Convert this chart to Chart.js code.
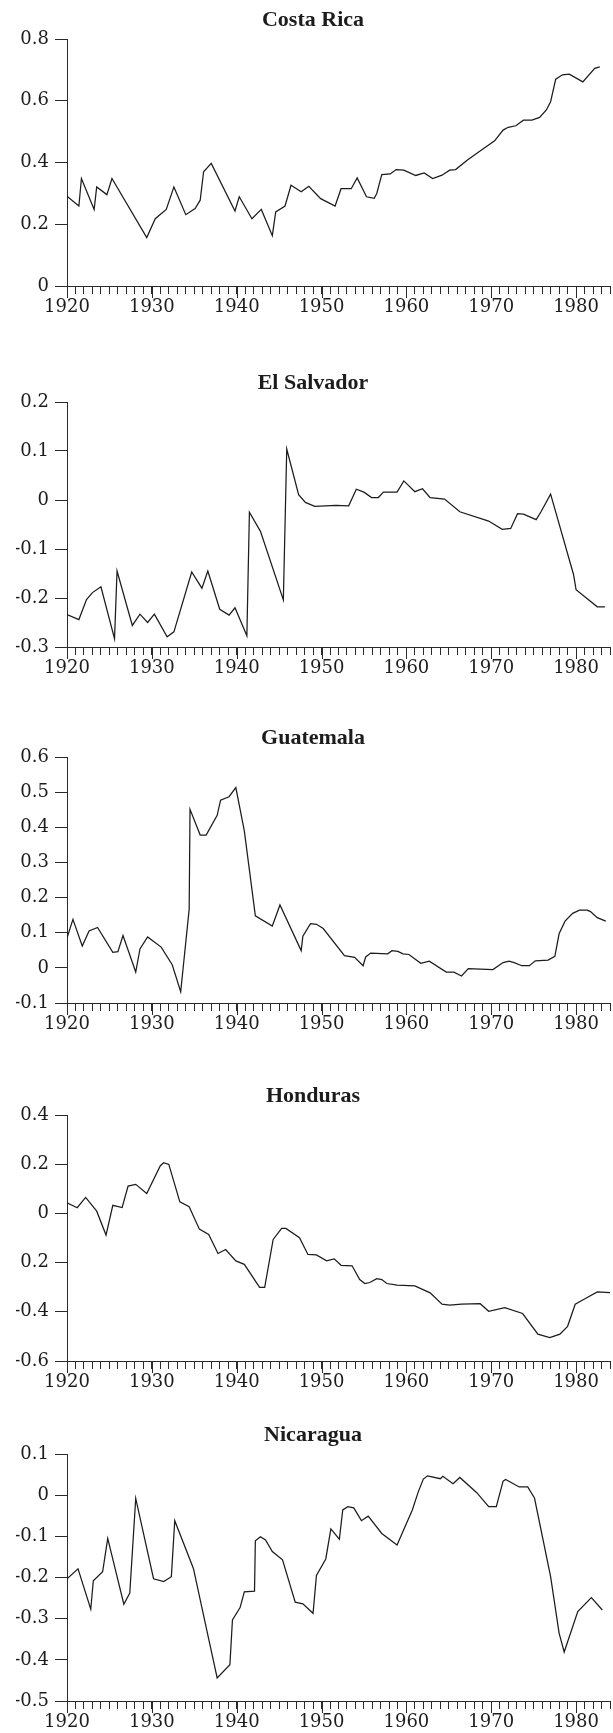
<!DOCTYPE html>
<html>
<head>
<meta charset="utf-8">
<script src="https://cdn.jsdelivr.net/npm/chart.js@4.4.0/dist/chart.umd.min.js"></script>
<style>
  html, body { margin: 0; padding: 0; background: #ffffff; }
  body { width: 613px; height: 1733px; position: relative; overflow: hidden; }
  .panel { position: absolute; left: 0; width: 613px; }
  canvas { display: block; }
</style>
</head>
<body>
<div class="panel" id="panel0"><canvas id="chart0"></canvas></div>
<div class="panel" id="panel1"><canvas id="chart1"></canvas></div>
<div class="panel" id="panel2"><canvas id="chart2"></canvas></div>
<div class="panel" id="panel3"><canvas id="chart3"></canvas></div>
<div class="panel" id="panel4"><canvas id="chart4"></canvas></div>
<script>
// ---------------- DATA ----------------
const titles = ['Costa Rica', 'El Salvador', 'Guatemala', 'Honduras', 'Nicaragua'];
const xTickLabels = ['1920', '1930', '1940', '1950', '1960', '1970', '1980'];

const costaRicaYears = [1920, 1921.4, 1921.7, 1923.2, 1923.5, 1924.7, 1925.3, 1929.4, 1930.4, 1931.7,
  1932.6, 1934.0, 1935.1, 1935.7, 1936.1, 1937.0, 1939.8, 1940.3, 1941.8, 1942.9,
  1944.2, 1944.6, 1945.7, 1946.4, 1947.6, 1948.5, 1949.9, 1951.6, 1952.3, 1953.5,
  1954.2, 1955.3, 1956.2, 1956.5, 1957.1, 1958.1, 1958.8, 1959.7, 1961.1, 1962.1,
  1963.1, 1964.2, 1965.1, 1965.8, 1967.2, 1969.1, 1969.4, 1970.4, 1971.4, 1972.0,
  1972.9, 1973.8, 1974.8, 1975.7, 1976.5, 1977.0, 1977.6, 1978.4, 1979.2, 1980.8,
  1982.2, 1982.8];
const costaRicaValues = [0.291, 0.259, 0.348, 0.248, 0.321, 0.296, 0.348, 0.157, 0.218, 0.248,
  0.321, 0.231, 0.251, 0.278, 0.370, 0.397, 0.243, 0.289, 0.218, 0.248,
  0.163, 0.240, 0.259, 0.326, 0.305, 0.323, 0.283, 0.259, 0.315, 0.315,
  0.350, 0.289, 0.284, 0.299, 0.361, 0.363, 0.377, 0.375, 0.358, 0.366,
  0.348, 0.359, 0.375, 0.377, 0.408, 0.445, 0.451, 0.470, 0.505, 0.514,
  0.519, 0.537, 0.537, 0.546, 0.570, 0.597, 0.670, 0.684, 0.686, 0.661,
  0.705, 0.710];
const costaRicaYTicks = [0, 0.2, 0.4, 0.6, 0.8];
const costaRicaYLabels = ['0', '0.2', '0.4', '0.6', '0.8'];

const elSalvadorYears = [1920, 1921.4, 1922.3, 1923.0, 1924.0, 1925.6, 1925.9, 1927.7, 1928.6, 1929.5,
  1930.3, 1931.8, 1932.6, 1934.7, 1935.9, 1936.6, 1938.0, 1939.1, 1939.8, 1941.2,
  1941.5, 1942.8, 1945.5, 1945.9, 1947.3, 1948.1, 1949.2, 1951.7, 1953.2, 1954.1,
  1955.0, 1955.9, 1956.7, 1957.3, 1958.9, 1959.7, 1961.0, 1961.9, 1962.8, 1964.5,
  1966.3, 1969.7, 1971.3, 1972.3, 1973.1, 1973.8, 1975.3, 1975.9, 1977.0, 1979.7,
  1980.0, 1982.5, 1983.4];
const elSalvadorValues = [-0.234, -0.244, -0.203, -0.189, -0.177, -0.283, -0.145, -0.256, -0.233, -0.250,
  -0.233, -0.279, -0.269, -0.147, -0.180, -0.145, -0.223, -0.235, -0.220, -0.277,
  -0.025, -0.064, -0.204, 0.104, 0.011, -0.005, -0.013, -0.011, -0.012, 0.022,
  0.016, 0.005, 0.005, 0.016, 0.016, 0.039, 0.017, 0.023, 0.005, 0.002,
  -0.024, -0.043, -0.060, -0.058, -0.028, -0.029, -0.040, -0.023, 0.012, -0.152,
  -0.183, -0.218, -0.218];
const elSalvadorYTicks = [-0.3, -0.2, -0.1, 0, 0.1, 0.2];
const elSalvadorYLabels = ['-0.3', '-0.2', '-0.1', '0', '0.1', '0.2'];

const guatemalaYears = [1920, 1920.7, 1921.8, 1922.6, 1923.6, 1925.4, 1926.0, 1926.6, 1928.1, 1928.6,
  1929.5, 1931.1, 1932.4, 1933.4, 1934.4, 1934.5, 1935.7, 1936.4, 1937.7, 1938.1,
  1939.1, 1939.9, 1940.9, 1942.2, 1944.2, 1945.1, 1947.6, 1947.8, 1948.7, 1949.4,
  1950.2, 1952.7, 1953.9, 1954.9, 1955.2, 1955.8, 1957.8, 1958.3, 1959.0, 1959.6,
  1960.3, 1961.7, 1962.7, 1964.7, 1965.6, 1966.5, 1967.3, 1970.2, 1971.4, 1972.1,
  1972.7, 1973.6, 1974.5, 1975.2, 1976.7, 1977.5, 1978.0, 1978.7, 1979.6, 1980.4,
  1981.3, 1981.7, 1982.5, 1983.5];
const guatemalaValues = [0.085, 0.138, 0.062, 0.105, 0.115, 0.044, 0.046, 0.092, -0.012, 0.054,
  0.088, 0.059, 0.009, -0.068, 0.167, 0.451, 0.378, 0.378, 0.434, 0.477,
  0.487, 0.513, 0.390, 0.148, 0.119, 0.179, 0.049, 0.090, 0.126, 0.124,
  0.112, 0.035, 0.030, 0.006, 0.031, 0.042, 0.040, 0.049, 0.047, 0.040,
  0.038, 0.013, 0.019, -0.012, -0.012, -0.023, -0.002, -0.005, 0.015, 0.019,
  0.015, 0.006, 0.006, 0.020, 0.022, 0.033, 0.097, 0.133, 0.155, 0.164,
  0.164, 0.160, 0.143, 0.133];
const guatemalaYTicks = [-0.1, 0, 0.1, 0.2, 0.3, 0.4, 0.5, 0.6];
const guatemalaYLabels = ['-0.1', '0', '0.1', '0.2', '0.3', '0.4', '0.5', '0.6'];

const hondurasYears = [1920, 1921.2, 1922.2, 1923.5, 1924.6, 1925.4, 1926.5, 1927.2, 1928.1, 1929.4,
  1931.0, 1931.4, 1932.0, 1933.3, 1934.4, 1935.6, 1936.7, 1937.8, 1938.7, 1939.9,
  1940.9, 1942.7, 1943.3, 1944.3, 1945.3, 1945.8, 1947.4, 1948.4, 1949.4, 1950.6,
  1951.5, 1952.3, 1953.6, 1954.5, 1955.1, 1955.7, 1956.5, 1957.1, 1957.7, 1958.9,
  1961.0, 1962.8, 1964.2, 1965.1, 1966.5, 1968.7, 1969.7, 1971.6, 1973.7, 1975.5,
  1976.9, 1978.1, 1979.0, 1979.9, 1981.1, 1982.5, 1984.0];
const hondurasValues = [0.043, 0.023, 0.065, 0.009, -0.088, 0.033, 0.024, 0.111, 0.118, 0.081,
  0.194, 0.206, 0.199, 0.047, 0.027, -0.064, -0.086, -0.163, -0.147, -0.193,
  -0.207, -0.301, -0.301, -0.106, -0.061, -0.061, -0.099, -0.167, -0.169, -0.193,
  -0.185, -0.211, -0.213, -0.269, -0.285, -0.281, -0.265, -0.269, -0.285, -0.292,
  -0.295, -0.323, -0.369, -0.373, -0.369, -0.367, -0.398, -0.383, -0.407, -0.491,
  -0.505, -0.491, -0.459, -0.369, -0.346, -0.319, -0.322];
const hondurasYTicks = [-0.6, -0.4, -0.2, 0, 0.2, 0.4];
const hondurasYLabels = ['-0.6', '-0.4', '0.2', '0', '0.2', '0.4'];

const nicaraguaYears = [1920, 1921.3, 1922.8, 1923.1, 1924.2, 1924.8, 1926.7, 1927.4, 1928.1, 1930.2,
  1931.4, 1932.3, 1932.7, 1934.9, 1936.8, 1937.7, 1939.2, 1939.5, 1940.4, 1940.9,
  1942.1, 1942.2, 1942.8, 1943.4, 1944.2, 1945.4, 1946.9, 1947.8, 1949.0, 1949.4,
  1950.5, 1951.1, 1952.1, 1952.5, 1953.1, 1953.8, 1954.7, 1955.5, 1957.1, 1958.9,
  1960.7, 1961.4, 1962.0, 1962.5, 1964.0, 1964.3, 1965.5, 1966.3, 1968.3, 1969.7,
  1970.6, 1971.4, 1971.7, 1973.3, 1974.3, 1975.1, 1977.0, 1978.0, 1978.6, 1980.2,
  1981.8, 1983.1];
const nicaraguaValues = [-0.203, -0.179, -0.277, -0.208, -0.186, -0.105, -0.265, -0.238, -0.008, -0.203,
  -0.210, -0.198, -0.062, -0.178, -0.359, -0.444, -0.412, -0.303, -0.273, -0.235,
  -0.233, -0.111, -0.101, -0.109, -0.137, -0.157, -0.260, -0.264, -0.287, -0.195,
  -0.155, -0.082, -0.107, -0.036, -0.028, -0.031, -0.062, -0.051, -0.093, -0.121,
  -0.036, 0.008, 0.039, 0.047, 0.040, 0.046, 0.028, 0.043, 0.006, -0.028,
  -0.028, 0.034, 0.038, 0.020, 0.020, -0.007, -0.198, -0.335, -0.381, -0.283,
  -0.249, -0.279];
const nicaraguaYTicks = [-0.5, -0.4, -0.3, -0.2, -0.1, 0, 0.1];
const nicaraguaYLabels = ['-0.5', '-0.4', '-0.3', '-0.2', '-0.1', '0', '0.1'];

// ---------------- LAYOUT / STYLE ----------------
const plotTop = [39, 402, 757, 1115, 1454];
const plotBottom = [286, 647, 1003, 1361, 1701];
const titleSpace = 45;
const xAxisSpace = 40;
const xMin = 1920, xMax = 1984;
const inkColor = '#1c1c1c';
const axisColor = '#2a2a2a';
const titleFont = '"Liberation Serif", "Times New Roman", serif';
const tickFont = '"DejaVu Serif", "Liberation Serif", serif';

const series = [
  { years: costaRicaYears, values: costaRicaValues, yTicks: costaRicaYTicks, yLabels: costaRicaYLabels },
  { years: elSalvadorYears, values: elSalvadorValues, yTicks: elSalvadorYTicks, yLabels: elSalvadorYLabels },
  { years: guatemalaYears, values: guatemalaValues, yTicks: guatemalaYTicks, yLabels: guatemalaYLabels },
  { years: hondurasYears, values: hondurasValues, yTicks: hondurasYTicks, yLabels: hondurasYLabels },
  { years: nicaraguaYears, values: nicaraguaValues, yTicks: nicaraguaYTicks, yLabels: nicaraguaYLabels }
];

const yearTicks = [];
for (let y = xMin; y <= xMax; y++) yearTicks.push(y);

const decadeTickPlugin = {
  id: 'decadeTicks',
  afterDraw(chart) {
    const xs = chart.scales.x;
    const ctx = chart.ctx;
    const b = chart.chartArea.bottom;
    ctx.save();
    ctx.strokeStyle = axisColor;
    ctx.lineWidth = 1;
    xTickLabels.forEach(lbl => {
      const px = Math.round(xs.getPixelForValue(Number(lbl))) + 0.5;
      ctx.beginPath();
      ctx.moveTo(px, b);
      ctx.lineTo(px, b + 12);
      ctx.stroke();
    });
    ctx.restore();
  }
};

series.forEach((s, i) => {
  const panel = document.getElementById('panel' + i);
  const canvas = document.getElementById('chart' + i);
  const h = Math.round(plotBottom[i] - plotTop[i]) + titleSpace + xAxisSpace;
  panel.style.top = (plotTop[i] - titleSpace) + 'px';
  canvas.width = 613;
  canvas.height = h;
  canvas.style.width = '613px';
  canvas.style.height = h + 'px';

  const yMin = s.yTicks[0];
  const yMax = s.yTicks[s.yTicks.length - 1];

  new Chart(canvas, {
    type: 'line',
    data: {
      datasets: [{
        data: s.years.map((yr, k) => ({ x: yr, y: s.values[k] })),
        borderColor: inkColor,
        borderWidth: 1.25,
        pointRadius: 0,
        tension: 0,
        fill: false
      }]
    },
    options: {
      responsive: false,
      animation: false,
      devicePixelRatio: 1,
      layout: { padding: { left: 16, right: 3, top: 0, bottom: 0 } },
      plugins: {
        legend: { display: false },
        tooltip: { enabled: false },
        title: {
          display: true,
          text: titles[i],
          color: inkColor,
          font: { family: titleFont, size: 22, weight: 'bold' },
          padding: { top: 12.8, bottom: 5.8 }
        }
      },
      scales: {
        x: {
          type: 'linear',
          min: xMin,
          max: xMax,
          afterBuildTicks: sc => { sc.ticks = yearTicks.map(v => ({ value: v })); },
          afterFit: sc => { sc.height = xAxisSpace; },
          ticks: {
            autoSkip: false,
            maxRotation: 0,
            minRotation: 0,
            padding: 3,
            color: inkColor,
            font: { family: tickFont, size: 18 },
            callback: v => xTickLabels.includes(String(v)) ? String(v) : ''
          },
          grid: { drawOnChartArea: false, drawTicks: true, tickLength: 8, color: axisColor, lineWidth: 1 },
          border: { display: true, color: axisColor, width: 1 }
        },
        y: {
          type: 'linear',
          min: yMin,
          max: yMax,
          afterBuildTicks: sc => { sc.ticks = s.yTicks.map(v => ({ value: v })); },
          afterFit: sc => { sc.width = 51; },
          ticks: {
            padding: 6,
            color: inkColor,
            font: { family: tickFont, size: 18 },
            callback: (v, idx) => s.yLabels[idx]
          },
          grid: { drawOnChartArea: false, drawTicks: true, tickLength: 12, color: axisColor, lineWidth: 1 },
          border: { display: true, color: axisColor, width: 1 }
        }
      }
    },
    plugins: [decadeTickPlugin]
  });
});
</script>
</body>
</html>
